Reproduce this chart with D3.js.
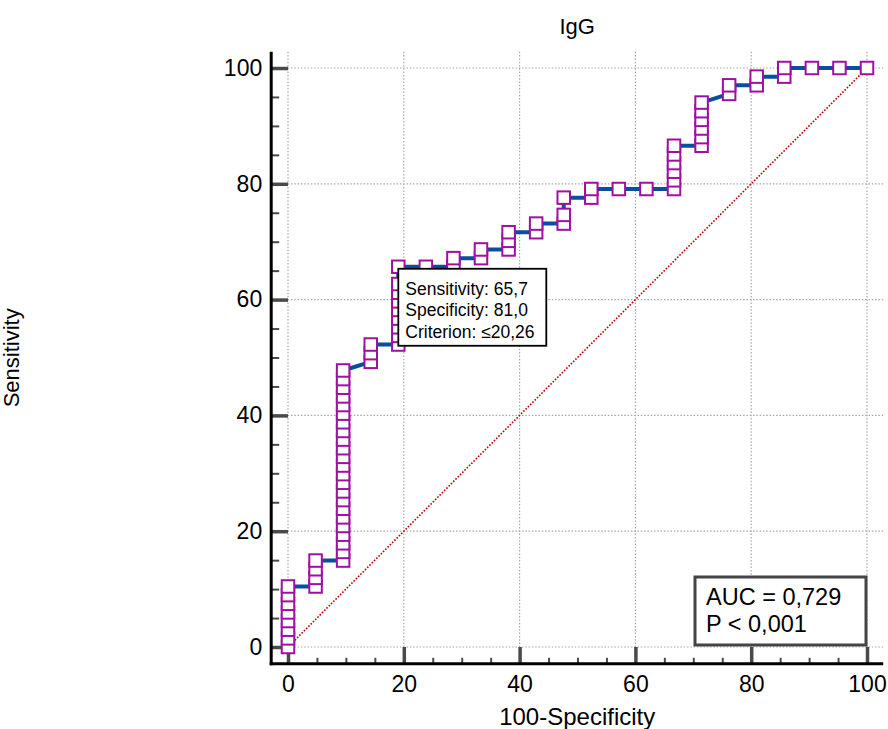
<!DOCTYPE html>
<html>
<head>
<meta charset="utf-8">
<script src="https://cdn.jsdelivr.net/npm/d3@7"></script>
<style>
  body { margin: 0; background: #fff; }
  svg { display: block; font-family: "Liberation Sans", Arial, sans-serif; }
</style>
</head>
<body>
<div id="chart"></div>
<script>
// 100-Specificity at each step of the curve
const falsePositive = [0, 4.76, 9.52, 14.29, 19.05, 23.81, 28.57, 33.33, 38.10, 42.86, 47.62,
  52.38, 57.14, 61.90, 66.67, 71.43, 76.19, 80.95, 85.71, 90.48, 95.24, 100];
// sensitivity of the points plotted at each step
const sensitivity = [
  [0, 1.49, 2.99, 4.48, 5.97, 7.46, 8.96, 10.45],
  [10.45, 11.94, 13.43, 14.93],
  [14.93, 16.42, 17.91, 19.40, 20.90, 22.39, 23.88, 25.37, 26.87, 28.36, 29.85, 31.34,
   32.84, 34.33, 35.82, 37.31, 38.81, 40.30, 41.79, 43.28, 44.78, 46.27, 47.76],
  [49.25, 50.75, 52.24],
  [52.24, 53.73, 55.22, 56.72, 58.21, 59.70, 61.19, 62.69, 65.67],
  [65.67],
  [65.67, 67.16],
  [67.16, 68.66],
  [68.66, 70.15, 71.64],
  [71.64, 73.13],
  [73.13, 74.63, 77.61],
  [77.61, 79.10],
  [79.10],
  [79.10],
  [79.10, 80.60, 82.09, 83.58, 85.07, 86.57],
  [86.57, 88.06, 89.55, 91.04, 92.54, 94.03],
  [95.52, 97.01],
  [97.01, 98.51],
  [98.51, 100],
  [100],
  [100],
  [100]
];
const majorTicks = [0, 20, 40, 60, 80, 100];
const minorTicks = d3.range(0, 101, 5).filter(v => v % 20 !== 0);
const cutoff = { x: 19.05, y: 65.67 };
const cutoffLines = ["Sensitivity: 65,7", "Specificity: 81,0", "Criterion: \u226420,26"];
const statLines = ["AUC = 0,729", "P < 0,001"];

const width = 888, height = 729;
const lo = -2.9, hi = 102.8; // plot frame extends a bit past 0..100

const x = d3.scaleLinear().domain([0, 100]).range([288, 867]);
const y = d3.scaleLinear().domain([0, 100]).range([647, 68]);

const svg = d3.select('#chart').append('svg').attr('width', width).attr('height', height);

const points = falsePositive.flatMap((fp, i) => sensitivity[i].map(s => [fp, s]));

// grid
const grid = svg.append('g').attr('stroke', '#a8a8a8').attr('stroke-width', 1.2).attr('stroke-dasharray', '1.5,1.8');
grid.selectAll('.gx').data(majorTicks).enter().append('line')
  .attr('x1', d => x(d)).attr('x2', d => x(d)).attr('y1', y(hi)).attr('y2', y(lo));
grid.selectAll('.gy').data(majorTicks).enter().append('line')
  .attr('y1', d => y(d)).attr('y2', d => y(d)).attr('x1', x(lo)).attr('x2', x(hi));

// reference diagonal
svg.append('line')
  .attr('x1', x(0)).attr('y1', y(0)).attr('x2', x(100)).attr('y2', y(100))
  .attr('stroke', '#c00000').attr('stroke-width', 1.6).attr('stroke-dasharray', '1.6,1.6');

// ticks (inward)
const yMajor = d3.axisLeft(y).tickValues(majorTicks).tickSizeOuter(0).tickPadding(9);
const yMinor = d3.axisLeft(y).tickValues(minorTicks).tickSizeOuter(0).tickFormat('');
const xMajor = d3.axisBottom(x).tickValues(majorTicks).tickSizeOuter(0).tickPadding(12);
const xMinor = d3.axisBottom(x).tickValues(minorTicks).tickSizeOuter(0).tickFormat('');

function styleAxis(g, w) {
  g.select('.domain').remove();
  g.selectAll('.tick line').attr('stroke', '#4a4a4a').attr('stroke-width', w);
  g.selectAll('text').attr('font-size', 23).attr('fill', '#000').attr('font-family', null);
}
const gy = svg.append('g').attr('transform', `translate(${x(lo)},0)`).call(yMajor).call(styleAxis, 3.5);
gy.selectAll('.tick line').attr('x2', x(0) - x(lo));
gy.selectAll('.tick text').attr('x', -9);
svg.append('g').attr('transform', `translate(${x(lo)},0)`).call(yMinor).call(styleAxis, 2)
  .selectAll('.tick line').attr('x2', 8);
const gx = svg.append('g').attr('transform', `translate(0,${y(lo)})`).call(xMajor).call(styleAxis, 3.5);
gx.selectAll('.tick line').attr('y2', -(y(lo) - y(0)));
gx.selectAll('.tick text').attr('y', 12);
svg.append('g').attr('transform', `translate(0,${y(lo)})`).call(xMinor).call(styleAxis, 2)
  .selectAll('.tick line').attr('y2', -6);

// axis frame lines
svg.append('line').attr('x1', x(lo)).attr('x2', x(lo)).attr('y1', y(hi)).attr('y2', y(lo) + 1.5)
  .attr('stroke', '#000').attr('stroke-width', 3);
svg.append('line').attr('x1', x(lo) - 1.5).attr('x2', x(hi)).attr('y1', y(lo)).attr('y2', y(lo))
  .attr('stroke', '#000').attr('stroke-width', 3);

// ROC curve
svg.append('path').datum(points)
  .attr('d', d3.line().x(d => x(d[0])).y(d => y(d[1])))
  .attr('fill', 'none').attr('stroke', '#0a4f9e').attr('stroke-width', 4).attr('stroke-linejoin', 'round');

const sq = 12.5;
svg.append('g').selectAll('rect').data(points).enter().append('rect')
  .attr('x', d => x(d[0]) - sq / 2).attr('y', d => y(d[1]) - sq / 2)
  .attr('width', sq).attr('height', sq)
  .attr('fill', '#fff').attr('stroke', '#a010a0').attr('stroke-width', 2);

// cutoff tooltip
const tip = svg.append('g').attr('transform', `translate(${x(cutoff.x)},${y(cutoff.y) + 2})`);
tip.append('rect').attr('width', 148).attr('height', 77)
  .attr('fill', '#fff').attr('stroke', '#000').attr('stroke-width', 1.8);
tip.selectAll('text').data(cutoffLines).enter().append('text')
  .attr('x', 7).attr('y', (d, i) => 26 + i * 21.6)
  .attr('font-size', 17.5).text(d => d);

// AUC box
const stat = svg.append('g').attr('transform', `translate(${x(100) - 172},${y(0) - 70})`);
stat.append('rect').attr('width', 171).attr('height', 68)
  .attr('fill', '#fff').attr('stroke', '#444').attr('stroke-width', 3);
stat.selectAll('text').data(statLines).enter().append('text')
  .attr('x', 11).attr('y', (d, i) => 27.5 + i * 27.2)
  .attr('font-size', 23.5).text(d => d);

// titles
svg.append('text').attr('x', (x(lo) + x(hi)) / 2).attr('y', 34).attr('text-anchor', 'middle')
  .attr('font-size', 22).text('IgG');
svg.append('text').attr('x', (x(lo) + x(hi)) / 2).attr('y', 725).attr('text-anchor', 'middle')
  .attr('font-size', 24).text('100-Specificity');
svg.append('text')
  .attr('transform', `translate(19,${(y(lo) + y(hi)) / 2}) rotate(-90)`)
  .attr('text-anchor', 'middle').attr('font-size', 22).text('Sensitivity');
</script>
</body>
</html>
